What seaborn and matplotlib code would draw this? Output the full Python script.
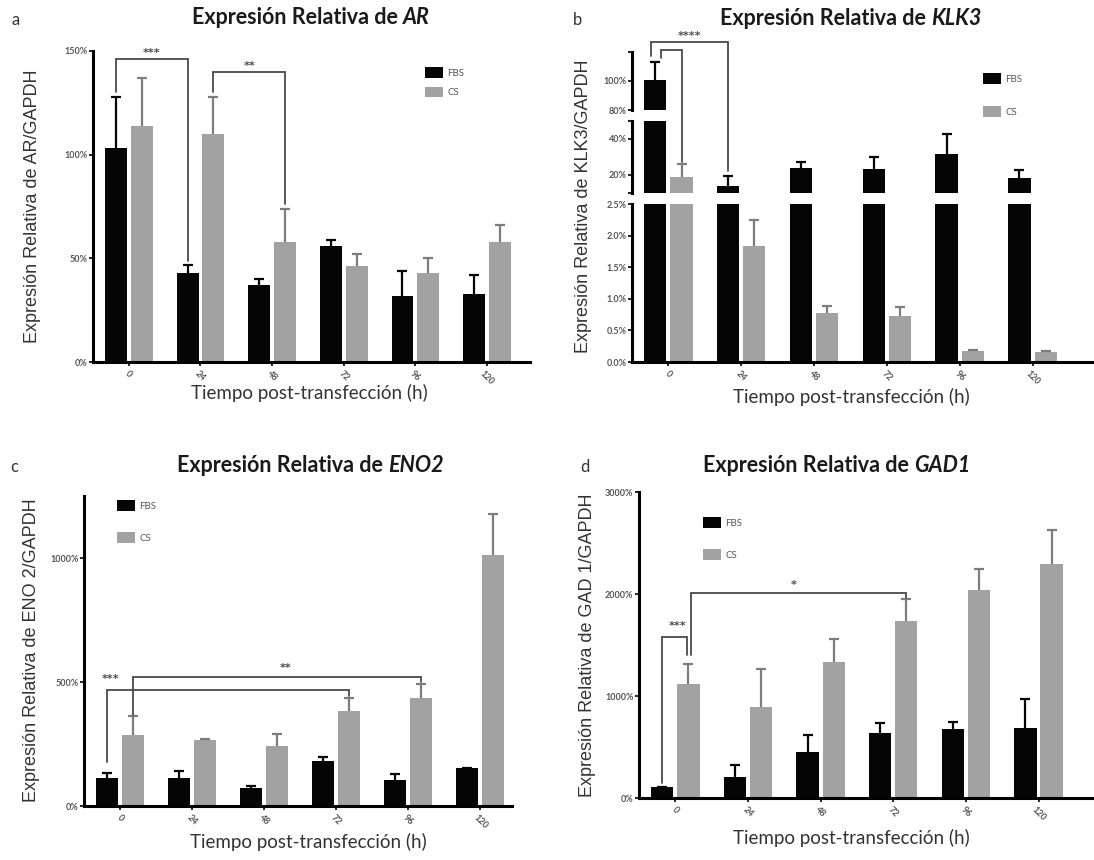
import numpy as np
import pandas as pd
import matplotlib
matplotlib.use("Agg")
import matplotlib.pyplot as plt
import seaborn as sns
from matplotlib.patches import Patch
from matplotlib.lines import Line2D

# ---------------- data ----------------
times = ["0", "24", "48", "72", "96", "120"]
groups = ["FBS", "CS"]

ar_fbs = [103, 43, 37, 56, 32, 33]
ar_fbs_err = [25, 4, 3, 3, 12, 9]
ar_cs = [114, 110, 58, 46.5, 43, 58]
ar_cs_err = [23, 18, 16, 5.5, 7, 8]

klk3_fbs = [101, 14, 24, 23.3, 31.5, 18.5]
klk3_fbs_err = [12, 5.6, 3, 6.7, 11.5, 4.2]
klk3_cs = [19, 1.83, 0.77, 0.73, 0.17, 0.16]
klk3_cs_err = [7, 0.42, 0.11, 0.14, 0.015, 0.015]

eno2_fbs = [112, 112, 74, 180, 104, 153]
eno2_fbs_err = [23, 30, 7, 19, 27, 0]
eno2_cs = [288, 266, 240, 385, 436, 1013]
eno2_cs_err = [74, 4, 50, 50, 57, 165]

gad1_fbs = [106, 208, 455, 634, 677, 686]
gad1_fbs_err = [4, 115, 162, 102, 72, 288]
gad1_cs = [1122, 891, 1330, 1733, 2040, 2294]
gad1_cs_err = [188, 370, 231, 221, 201, 336]

ar_ticks = [0, 50, 100, 150]
ar_ticklabels = ["0%", "50%", "100%", "150%"]
klk3_top_ticks = [80, 100]
klk3_top_labels = ["80%", "100%"]
klk3_mid_ticks = [20, 40]
klk3_mid_labels = ["20%", "40%"]
klk3_low_ticks = [0, 0.5, 1.0, 1.5, 2.0, 2.5]
klk3_low_labels = ["0.0%", "0.5%", "1.0%", "1.5%", "2.0%", "2.5%"]
eno2_ticks = [0, 500, 1000]
eno2_ticklabels = ["0%", "500%", "1000%"]
gad1_ticks = [0, 1000, 2000, 3000]
gad1_ticklabels = ["0%", "1000%", "2000%", "3000%"]

# ---------------- style ----------------
sns.set_theme(style="white")
plt.rcParams["font.family"] = ["Lato", "DejaVu Sans"]

COL = {"FBS": "#050505", "CS": "#a2a2a2"}
ERRC = {"FBS": "#050505", "CS": "#7d7d7d"}
TXT = "#333333"
TICKC = "#555555"
BRC = "#4a4a4a"

W, H = 1094, 860
fig = plt.figure(figsize=(W / 100, H / 100), dpi=100)


def rect(l, r, t, b):
    return [l / W, 1 - b / H, (r - l) / W, (b - t) / H]


def make_df(fbs, cs):
    return pd.DataFrame({
        "Tiempo": times * 2,
        "Grupo": ["FBS"] * len(times) + ["CS"] * len(times),
        "Valor": list(fbs) + list(cs),
    })


def draw_bars(ax, fbs, cs, fbs_err, cs_err):
    df = make_df(fbs, cs)
    sns.barplot(data=df, x="Tiempo", y="Valor", hue="Grupo", order=times,
                hue_order=groups, palette=COL, width=0.72, gap=0.15,
                errorbar=None, legend=False, ax=ax, linewidth=0, saturation=1)
    conts = list(ax.containers[:2])
    centers = {}
    for cont, g, errs in zip(conts, groups, [fbs_err, cs_err]):
        xs = [p.get_x() + p.get_width() / 2 for p in cont]
        hs = [p.get_height() for p in cont]
        centers[g] = xs
        eb = ax.errorbar(xs, hs, yerr=[np.zeros(len(errs)), errs], fmt="none",
                         ecolor=ERRC[g], elinewidth=1.6, capsize=3.5,
                         capthick=1.6, zorder=3)
        caps = eb[1]
        if len(caps) >= 2:
            caps[0].set_visible(False)
    return centers


def style(ax, xlim, bottom=True):
    ax.set_xlim(*xlim)
    ax.set_xlabel("")
    ax.set_ylabel("")
    for s in ["top", "right"]:
        ax.spines[s].set_visible(False)
    ax.spines["left"].set_linewidth(2.2)
    ax.spines["left"].set_color("#000000")
    ax.tick_params(axis="y", length=3, width=1.2, labelsize=6.5, labelcolor=TICKC,
                   color="#000000", pad=1, left=True)
    if bottom:
        ax.spines["bottom"].set_linewidth(2.2)
        ax.spines["bottom"].set_color("#000000")
        ax.set_xticks(range(len(times)))
        ax.set_xticklabels(times, rotation=-45, ha="center", fontsize=6.5,
                           color=TICKC, fontweight="bold")
        ax.tick_params(axis="x", length=3, width=1.2, color="#000000",
                       pad=2, bottom=True)
    else:
        ax.spines["bottom"].set_visible(False)
        ax.set_xticks([])
    ax.grid(False)
    ax.patch.set_alpha(0)


def set_y(ax, ylim, ticks, labels):
    ax.set_ylim(*ylim)
    ax.set_yticks(ticks)
    ax.set_yticklabels(labels, fontweight="bold")


def fpt(ax, x, y):
    return fig.transFigure.inverted().transform(ax.transData.transform((x, y)))


def poly(points, lw=1.3):
    xs = [p[0] for p in points]
    ys = [p[1] for p in points]
    fig.add_artist(Line2D(xs, ys, transform=fig.transFigure, color=BRC, lw=lw,
                          solid_joinstyle="miter"))


def star(ax, x, y, s):
    p = fpt(ax, x, y)
    fig.text(p[0], p[1], s, ha="center", va="bottom", fontsize=8,
             color=BRC, fontweight="bold", family="DejaVu Sans")


def title(x_px, y_px, gene):
    t1 = fig.text(x_px / W, 1 - y_px / H, "Expresión Relativa de ",
                  fontsize=15.5, fontweight="bold", color="#1a1a1a",
                  ha="left", va="baseline")
    fig.canvas.draw()
    bb = t1.get_window_extent(renderer=fig.canvas.get_renderer())
    fig.text(bb.x1 / W, 1 - y_px / H, gene, fontsize=15.5, fontweight="bold",
             fontstyle="italic", color="#1a1a1a", ha="left", va="baseline")


def legend(x_px, y_px, spacing):
    handles = [Patch(facecolor=COL[g], edgecolor="none", label=g) for g in groups]
    fig.legend(handles=handles, loc="upper left",
               bbox_to_anchor=(x_px / W, 1 - y_px / H), frameon=False,
               fontsize=7, labelcolor="#555555", handlelength=1.9,
               handleheight=1.3, handletextpad=0.4, labelspacing=spacing,
               borderpad=0, borderaxespad=0)


def ylab(x_px, y_px, s):
    fig.text(x_px / W, 1 - y_px / H, s, rotation=90, ha="center", va="center",
             fontsize=13, color=TXT, family=["Liberation Sans", "DejaVu Sans"])


def xlab(x_px, y_px):
    fig.text(x_px / W, 1 - y_px / H, "Tiempo post-transfección (h)",
             ha="center", va="center", fontsize=13.5, color=TXT)


# ---------------- panel a ----------------
axa = fig.add_axes(rect(93, 530, 51, 362))
ca = draw_bars(axa, ar_fbs, ar_cs, ar_fbs_err, ar_cs_err)
style(axa, (-0.5, 5.6))
set_y(axa, (0, 150), ar_ticks, ar_ticklabels)

# ---------------- panel b (broken axis) ----------------
axbt = fig.add_axes(rect(632, 1093, 52, 110))
axbm = fig.add_axes(rect(632, 1093, 121, 193))
axbb = fig.add_axes(rect(632, 1093, 204, 362))
cb = None
for ax_, yl, tk, lb, bot in [
    (axbt, (80, 120), klk3_top_ticks, klk3_top_labels, False),
    (axbm, (10, 50), klk3_mid_ticks, klk3_mid_labels, False),
    (axbb, (0, 2.5), klk3_low_ticks, klk3_low_labels, True),
]:
    cb = draw_bars(ax_, klk3_fbs, klk3_cs, klk3_fbs_err, klk3_cs_err)
    style(ax_, (-0.5, 5.83), bottom=bot)
    set_y(ax_, yl, tk, lb)
    ax_.set_yticks(list(yl), minor=True)
    ax_.tick_params(axis="y", which="minor", length=3, width=1.5, left=True)

# ---------------- panel c ----------------
axc = fig.add_axes(rect(84, 512, 496, 806))
cc = draw_bars(axc, eno2_fbs, eno2_cs, eno2_fbs_err, eno2_cs_err)
style(axc, (-0.5, 5.44))
set_y(axc, (0, 1250), eno2_ticks, eno2_ticklabels)

# ---------------- panel d ----------------
axd = fig.add_axes(rect(639, 1093, 492, 798))
cd = draw_bars(axd, gad1_fbs, gad1_cs, gad1_fbs_err, gad1_cs_err)
style(axd, (-0.5, 5.75))
set_y(axd, (0, 3000), gad1_ticks, gad1_ticklabels)

# ---------------- significance brackets ----------------
# panel a
poly([fpt(axa, ca["FBS"][0], 130), fpt(axa, ca["FBS"][0], 146),
      fpt(axa, ca["FBS"][1], 146), fpt(axa, ca["FBS"][1], 48.5)])
star(axa, (ca["FBS"][0] + ca["FBS"][1]) / 2, 146.5, "***")
poly([fpt(axa, ca["CS"][1], 130), fpt(axa, ca["CS"][1], 140),
      fpt(axa, ca["CS"][2], 140), fpt(axa, ca["CS"][2], 76)])
star(axa, (ca["CS"][1] + ca["CS"][2]) / 2, 140.5, "**")

# panel b
xo_l = cb["FBS"][0] - 0.06
xi_l = cb["FBS"][0] + 0.08
poly([fpt(axbt, xo_l, 117.5), fpt(axbt, xo_l, 127),
      fpt(axbt, cb["FBS"][1], 127), fpt(axbm, cb["FBS"][1], 22)])
poly([fpt(axbt, xi_l, 116), fpt(axbt, xi_l, 121.4),
      fpt(axbt, cb["CS"][0], 121.4), fpt(axbm, cb["CS"][0], 27)])
star(axbt, (xo_l + cb["FBS"][1]) / 2, 127.3, "****")

# panel c
poly([fpt(axc, cc["FBS"][0], 176), fpt(axc, cc["FBS"][0], 466),
      fpt(axc, cc["CS"][3], 466), fpt(axc, cc["CS"][3], 445)])
star(axc, cc["FBS"][0] + 0.05, 490, "***")
poly([fpt(axc, cc["CS"][0], 368), fpt(axc, cc["CS"][0], 520),
      fpt(axc, cc["CS"][4], 520), fpt(axc, cc["CS"][4], 500)])
star(axc, 2.3, 535, "**")

# panel d
poly([fpt(axd, cd["FBS"][0], 150), fpt(axd, cd["FBS"][0], 1578),
      fpt(axd, cd["CS"][0] - 0.02, 1578), fpt(axd, cd["CS"][0] - 0.02, 1400)])
star(axd, 0.03, 1640, "***")
poly([fpt(axd, cd["CS"][0] + 0.03, 1400), fpt(axd, cd["CS"][0] + 0.03, 2007),
      fpt(axd, cd["CS"][3], 2007), fpt(axd, cd["CS"][3], 1960)])
star(axd, 1.63, 2040, "*")

# ---------------- legends ----------------
legend(425, 67, 0.95)
legend(983, 73, 2.3)
legend(117, 500, 2.2)
legend(703, 517, 2.2)

# ---------------- labels / titles ----------------
ylab(33, 206, "Expresión Relativa de AR/GAPDH")
ylab(584, 206, "Expresión Relativa de KLK3/GAPDH")
ylab(32, 650, "Expresión Relativa de ENO 2/GAPDH")
ylab(587, 645, "Expresión Relativa de GAD 1/GAPDH")

xlab(309, 393)
xlab(851, 397)
xlab(308, 842)
xlab(851, 838)

fig.text(12 / W, 1 - 20 / H, "a", fontsize=12, color=TXT, va="center")
fig.text(573 / W, 1 - 20 / H, "b", fontsize=12, color=TXT, va="center")
fig.text(10 / W, 1 - 467 / H, "c", fontsize=12, color=TXT, va="center")
fig.text(580 / W, 1 - 467 / H, "d", fontsize=12, color=TXT, va="center")

title(192, 24, "AR")
title(720, 25, "KLK3")
title(177, 472, "ENO2")
title(703, 472, "GAD1")

fig.savefig("out.png", dpi=100)
